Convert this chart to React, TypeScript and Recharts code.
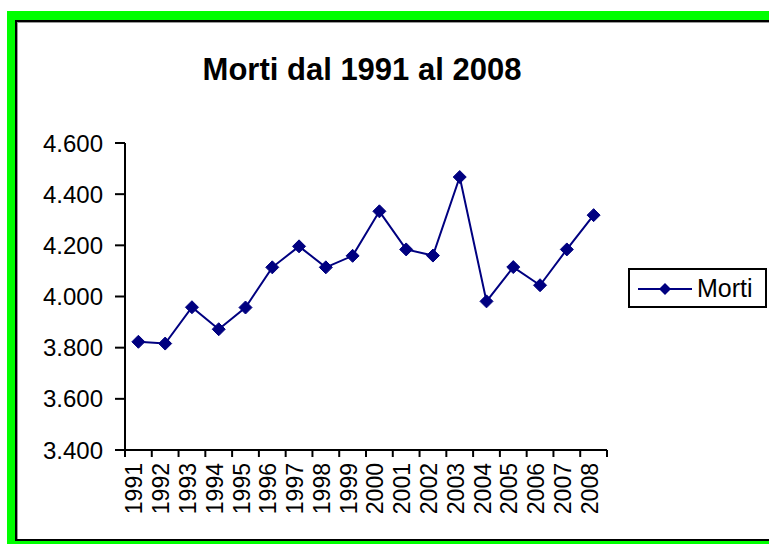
import React from "react";
import { LineChart, Line, XAxis, YAxis } from "recharts";

const years = [
  "1991", "1992", "1993", "1994", "1995", "1996", "1997", "1998", "1999",
  "2000", "2001", "2002", "2003", "2004", "2005", "2006", "2007", "2008",
];
const morti = [
  3823, 3816, 3958, 3872, 3957, 4114, 4196, 4114, 4159,
  4333, 4184, 4160, 4467, 3981, 4115, 4044, 4184, 4318,
];
const yTicks = [3400, 3600, 3800, 4000, 4200, 4400, 4600];
const seriesName = "Morti";
const title = "Morti dal 1991 al 2008";

const NAVY = "#000080";
const FONT = '"Liberation Sans", Arial, sans-serif';

// tick marks sit on category boundaries (integers), labels on centers (halves)
const xTicks = years.flatMap((_, i) => [i, i + 0.5]).concat(years.length);

const data = years.map((year, i) => ({ x: i + 0.5, year, morti: morti[i] }));

function formatThousands(v: number): string {
  const k = Math.floor(v / 1000);
  const r = String(v % 1000).padStart(3, "0");
  return `${k}.${r}`;
}

function XTick(props: any) {
  const { x, y, payload } = props;
  const v = payload.value as number;
  if (Number.isInteger(v)) {
    return <line x1={x} y1={y} x2={x} y2={y + 7} stroke="#000" strokeWidth={2} />;
  }
  const label = years[Math.floor(v)];
  const ty = y + 13;
  return (
    <text
      x={x}
      y={ty}
      dy={4}
      transform={`rotate(-90, ${x}, ${ty})`}
      textAnchor="end"
      fontSize={23}
      fontFamily={FONT}
      fill="#000"
    >
      {label}
    </text>
  );
}

function Diamond(props: any) {
  const { cx, cy } = props;
  if (cx == null || cy == null) return null;
  const s = 6.5;
  return (
    <path
      d={`M${cx},${cy - s}L${cx + s},${cy}L${cx},${cy + s}L${cx - s},${cy}Z`}
      fill={NAVY}
      stroke={NAVY}
      strokeWidth={1}
    />
  );
}

export default function App() {
  return (
    <div style={{ fontFamily: FONT }}>
      {/* green frame with black inner border */}
      <div
        style={{
          position: "absolute",
          left: 7,
          top: 11,
          width: 800,
          height: 545,
          background: "#00ff00",
        }}
      />
      <div
        style={{
          position: "absolute",
          left: 15,
          top: 20,
          width: 800,
          height: 517,
          background: "#fff",
          borderLeft: "2px solid #000",
          borderTop: "2px solid #000",
          borderBottom: "2px solid #000",
          boxShadow: "inset 1px 1px 0 #999",
        }}
      />

      <div style={{ position: "absolute", left: 0, top: 0 }}>
        <LineChart
          width={769}
          height={544}
          data={data}
          margin={{ top: 143, right: 162, bottom: 14, left: 0 }}
        >
          <XAxis
            dataKey="x"
            type="number"
            domain={[0, years.length]}
            ticks={xTicks}
            interval={0}
            allowDecimals
            height={80}
            tickSize={0}
            tickMargin={0}
            tickLine={false}
            axisLine={{ stroke: "#000", strokeWidth: 2 }}
            tick={<XTick />}
          />
          <YAxis
            domain={[3400, 4600]}
            ticks={yTicks}
            interval={0}
            width={125}
            tickSize={10}
            tickMargin={12}
            tickFormatter={formatThousands}
            axisLine={{ stroke: "#000", strokeWidth: 2 }}
            tickLine={{ stroke: "#000", strokeWidth: 2 }}
            tick={{ fill: "#000", fontSize: 24, fontFamily: FONT }}
          />
          <Line
            type="linear"
            dataKey="morti"
            name={seriesName}
            stroke={NAVY}
            strokeWidth={2}
            dot={<Diamond />}
            activeDot={false}
            isAnimationActive={false}
          />
        </LineChart>
      </div>

      <div
        style={{
          position: "absolute",
          left: 0,
          top: 54,
          width: 724,
          textAlign: "center",
          fontSize: 31,
          lineHeight: "31px",
          fontWeight: "bold",
          color: "#000",
        }}
      >
        {title}
      </div>

      <svg
        width={769}
        height={544}
        style={{ position: "absolute", left: 0, top: 0, pointerEvents: "none" }}
      >
        <rect x={629} y={269} width={137} height={38} fill="#fff" stroke="#000" strokeWidth={2} />
        <line x1={638} y1={289} x2={692} y2={289} stroke={NAVY} strokeWidth={2} />
        <path d="M665,283L671,289L665,295L659,289Z" fill={NAVY} />
        <text x={697} y={297} fontSize={25} fontFamily={FONT} fill="#000">
          {seriesName}
        </text>
      </svg>
    </div>
  );
}
